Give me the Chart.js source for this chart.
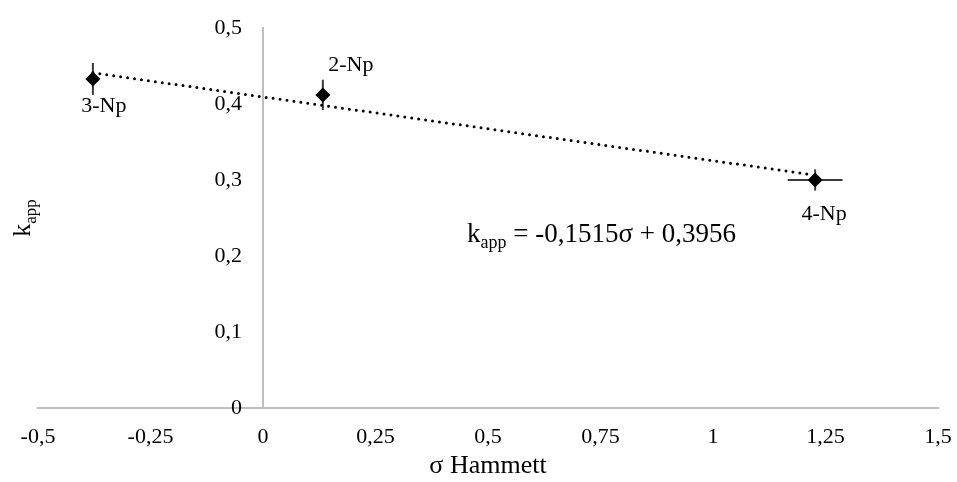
<!DOCTYPE html>
<html><head><meta charset="utf-8">
<script src="https://cdn.jsdelivr.net/npm/chart.js@4/dist/chart.umd.min.js"></script>
<style>html,body{margin:0;padding:0;background:#fff}#wrap{width:957px;height:482px}</style>
</head><body><div id="wrap"><canvas id="c" width="957" height="482"></canvas></div>
<script>
const names = ['3-Np', '2-Np', '4-Np'];
const sigma = [-0.378, 0.133, 1.227];
const kapp = [0.433, 0.412, 0.300];
const kErr = [0.021, 0.020, 0.014];
const sigmaErr = [0, 0, 0.061];
const trendX = [-0.378, 1.220];
const trendY = [0.441, 0.307];
const xTicks = [-0.5, -0.25, 0, 0.25, 0.5, 0.75, 1, 1.25, 1.5];
const yTicks = [0, 0.1, 0.2, 0.3, 0.4, 0.5];
const xTitle = 'σ Hammett';
const yTitleMain = 'k', yTitleSub = 'app';
const eqMain = 'k', eqSub = 'app', eqRest = ' = -0,1515σ + 0,3956';

const FONT = "'Liberation Serif', 'Times New Roman', serif";
const fmt = v => String(Math.round(v * 100) / 100).replace('.', ',');
// trailing gap keeps the y labels clear of the axis drawn at x = 0
const Y_GAP = '\u2002\u00a0\u2009';

const points = sigma.map((x, i) => ({x, y: kapp[i]}));
const trend = trendX.map((x, i) => ({x, y: trendY[i]}));

// label pixel offsets relative to each point
const labelOffsets = [[11, 27], [28, -30], [9, 34]];

const extras = {
  id: 'extras',
  beforeDatasetsDraw(chart) {
    const {ctx, scales: {x, y}} = chart;
    ctx.save();
    ctx.strokeStyle = '#3a3a3a';
    ctx.lineWidth = 2;
    sigma.forEach((sx, i) => {
      const px = x.getPixelForValue(sx), py = y.getPixelForValue(kapp[i]);
      if (kErr[i] > 0) {
        ctx.beginPath();
        ctx.moveTo(px, y.getPixelForValue(kapp[i] + kErr[i]));
        ctx.lineTo(px, y.getPixelForValue(kapp[i] - kErr[i]));
        ctx.stroke();
      }
      if (sigmaErr[i] > 0) {
        ctx.beginPath();
        ctx.moveTo(x.getPixelForValue(sx - sigmaErr[i]), py);
        ctx.lineTo(x.getPixelForValue(sx + sigmaErr[i]), py);
        ctx.stroke();
      }
    });
    ctx.restore();
  },
  afterDraw(chart) {
    const {ctx, scales: {x, y}, chartArea} = chart;
    ctx.save();
    ctx.fillStyle = '#000';
    ctx.font = '22px ' + FONT;
    ctx.textAlign = 'center';
    ctx.textBaseline = 'middle';
    names.forEach((n, i) => {
      const px = x.getPixelForValue(sigma[i]), py = y.getPixelForValue(kapp[i]);
      ctx.fillText(n, px + labelOffsets[i][0], py + labelOffsets[i][1]);
    });
    ctx.textAlign = 'left';
    ctx.textBaseline = 'alphabetic';
    let ex = 467, ey = 242;
    ctx.font = '27px ' + FONT;
    ctx.fillText(eqMain, ex, ey);
    ex += ctx.measureText(eqMain).width;
    ctx.font = '18px ' + FONT;
    ctx.fillText(eqSub, ex, ey + 6);
    ex += ctx.measureText(eqSub).width;
    ctx.font = '27px ' + FONT;
    ctx.fillText(eqRest, ex, ey);
    ctx.translate(24, (chartArea.top + chartArea.bottom) / 2);
    ctx.rotate(-Math.PI / 2);
    ctx.font = '26px ' + FONT;
    const w1 = ctx.measureText(yTitleMain).width;
    ctx.font = '17px ' + FONT;
    const w2 = ctx.measureText(yTitleSub).width;
    let sx = -(w1 + w2) / 2;
    ctx.font = '26px ' + FONT;
    ctx.fillText(yTitleMain, sx, 6);
    ctx.font = '17px ' + FONT;
    ctx.fillText(yTitleSub, sx + w1, 12);
    ctx.restore();
  }
};

new Chart(document.getElementById('c'), {
  type: 'scatter',
  data: {
    datasets: [
      {
        data: points,
        pointStyle: 'rectRot',
        pointRadius: 7.5,
        pointHoverRadius: 7.5,
        backgroundColor: '#000',
        borderColor: '#000',
        borderWidth: 0,
        order: 0
      },
      {
        type: 'line',
        data: trend,
        showLine: true,
        fill: false,
        pointRadius: 0,
        borderColor: '#000',
        borderWidth: 3,
        borderDash: [0, 7],
        borderCapStyle: 'round',
        order: 1
      }
    ]
  },
  options: {
    responsive: false,
    animation: false,
    layout: {padding: {left: 38, right: 19, top: 28, bottom: 0}},
    plugins: {legend: {display: false}, tooltip: {enabled: false}},
    scales: {
      x: {
        type: 'linear',
        min: -0.5, max: 1.5,
        afterBuildTicks: s => { s.ticks = xTicks.map(v => ({value: v})); },
        afterFit: s => { s.height = 74; s.paddingLeft = 0; s.paddingRight = 0; },
        grid: {color: 'transparent', drawTicks: false},
        border: {display: true, color: '#bfbfbf', width: 2},
        ticks: {padding: 16, color: '#000', font: {family: FONT, size: 22}, callback: v => fmt(v), maxRotation: 0, autoSkip: false},
        title: {display: true, text: xTitle, color: '#000', font: {family: FONT, size: 26}, padding: {top: 0, bottom: 0}}
      },
      y: {
        type: 'linear',
        position: {x: 0},
        min: 0, max: 0.5,
        afterBuildTicks: s => { s.ticks = yTicks.map(v => ({value: v})); },
        afterFit: s => { s.paddingTop = 0; s.paddingBottom = 0; },
        grid: {color: 'transparent', drawTicks: false},
        border: {display: true, color: '#bfbfbf', width: 2},
        ticks: {padding: 0, color: '#000', font: {family: FONT, size: 22}, callback: v => fmt(v) + Y_GAP}
      }
    }
  },
  plugins: [extras]
});
</script>
</body></html>
